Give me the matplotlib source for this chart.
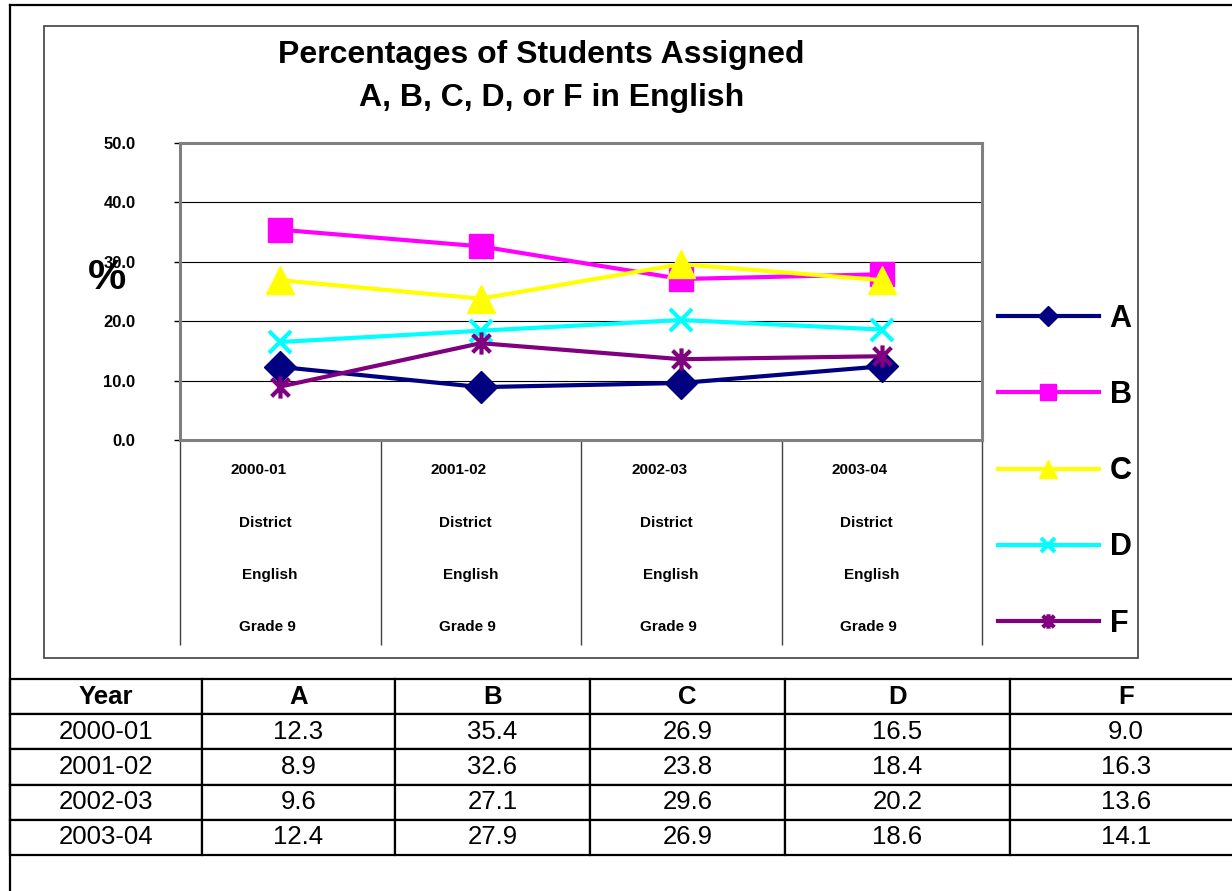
import numpy as np
import matplotlib.pyplot as plt
from matplotlib.path import Path
from matplotlib.lines import Line2D
from matplotlib.patches import Rectangle

plt.rcParams['font.family'] = ['Liberation Sans', 'DejaVu Sans']

years = ['2000-01', '2001-02', '2002-03', '2003-04']
grades = ['A', 'B', 'C', 'D', 'F']
grade_a = [12.3, 8.9, 9.6, 12.4]
grade_b = [35.4, 32.6, 27.1, 27.9]
grade_c = [26.9, 23.8, 29.6, 26.9]
grade_d = [16.5, 18.4, 20.2, 18.6]
grade_f = [9.0, 16.3, 13.6, 14.1]
cat_lines = ['District', 'English', 'Grade 9']

W, H = 1232, 891


def fx(px):
    return px / W


def fy(py):
    return 1 - py / H


fig = plt.figure(figsize=(12.32, 8.91), dpi=100)

# outer page border (right/bottom run off the picture)
fig.add_artist(Line2D([fx(10), fx(10)], [fy(5), 0], color='black', lw=1.6))
fig.add_artist(Line2D([fx(10), 1], [fy(5), fy(5)], color='black', lw=1.6))

# chart area box
fig.add_artist(Rectangle((fx(44), fy(658)), fx(1138) - fx(44), fy(26) - fy(658),
                         fill=False, ec='#404040', lw=1.2, transform=fig.transFigure))

fig.text(fx(541), fy(55), 'Percentages of Students Assigned', fontsize=23,
         weight='bold', ha='center', va='center')
fig.text(fx(552), fy(98), 'A, B, C, D, or F in English', fontsize=23,
         weight='bold', ha='center', va='center')

ax = fig.add_axes([fx(180), fy(440), fx(982) - fx(180), fy(143) - fy(440)])

star = Path([(-1, -1), (1, 1), (-1, 1), (1, -1), (0, -1.25), (0, 1.25)],
            [Path.MOVETO, Path.LINETO] * 3)

series = [grade_a, grade_b, grade_c, grade_d, grade_f]
colors = ['#000080', '#FF00FF', '#FFFF00', '#00FFFF', '#800080']
markers = ['D', 's', '^', 'x', star]
msizes = [16, 17, 20, 16, 16]
mews = [1, 1, 1, 3, 3]

x = np.arange(len(years))
for vals, name, c, m, ms, mw in zip(series, grades, colors, markers, msizes, mews):
    ax.plot(x, vals, color=c, lw=3, marker=m, ms=ms, mfc=c, mec=c, mew=mw,
            label=name, clip_on=False, zorder=3)

ax.set_xlim(-0.5, 3.5)
ax.set_ylim(0, 50)
ax.set_yticks(np.arange(0, 51, 10))
ax.set_yticklabels(['%.1f' % v for v in np.arange(0, 51, 10)], fontsize=12,
                   weight='bold')
ax.tick_params(axis='y', length=4, width=1, pad=28)
ax.set_xticks([])
ax.yaxis.grid(True, color='black', lw=0.8)
ax.set_axisbelow(True)
for s in ax.spines.values():
    s.set_color('#808080')
    s.set_linewidth(2.2)

# category separators under the plot
ax.vlines(np.arange(-0.5, 4, 1), -0.69, 0, transform=ax.get_xaxis_transform(),
          color='#404040', lw=1, clip_on=False)

row_y = [-0.101, -0.279, -0.455, -0.63]
row_dx = [-0.11, -0.075, -0.05, -0.065]
for i, yr in enumerate(years):
    for txt, yy, dx in zip([yr] + cat_lines, row_y, row_dx):
        ax.text(i + dx, yy, txt, transform=ax.get_xaxis_transform(), fontsize=11,
                weight='bold', ha='center', va='center')

fig.text(fx(107), fy(278), '%', fontsize=31, weight='bold', ha='center', va='center')

fig.legend(*ax.get_legend_handles_labels(), loc='upper left',
           bbox_to_anchor=(fx(998), fy(304)), frameon=False,
           prop={'size': 22, 'weight': 'bold'}, handlelength=3.3,
           handletextpad=0.35, labelspacing=1.51, markerscale=0.65,
           borderpad=0, borderaxespad=0)

# data table
tax = fig.add_axes([fx(10), fy(855), fx(1242) - fx(10), fy(679) - fy(855)])
tax.axis('off')
rows = []
for i, yr in enumerate(years):
    rows.append([yr] + ['%.1f' % s[i] for s in series])
widths = np.array([192, 193, 195, 195, 225, 232], dtype=float)
tbl = tax.table(cellText=rows, colLabels=['Year'] + grades, cellLoc='center',
                colWidths=list(widths / widths.sum()), bbox=[0, 0, 1, 1])
tbl.auto_set_font_size(False)
for (r, c), cell in tbl.get_celld().items():
    cell.set_linewidth(1.6)
    cell.get_text().set_fontsize(18.5)
    if r == 0:
        cell.get_text().set_weight('bold')

fig.savefig('out.png', dpi=100)
